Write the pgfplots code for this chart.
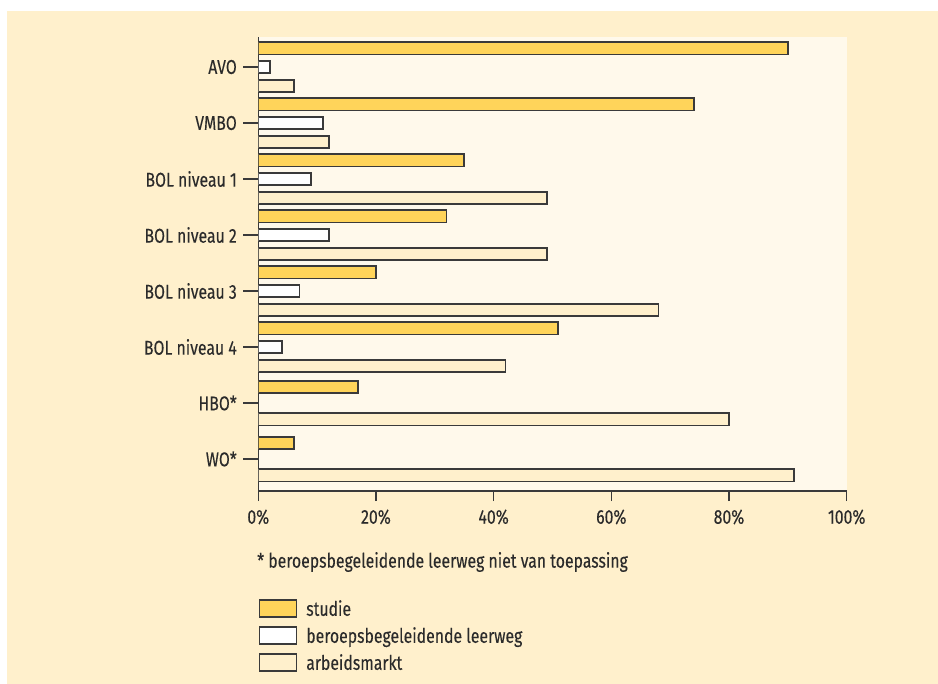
\documentclass[border=0pt]{standalone}
\usepackage{fontspec}
\setmainfont{Fira Sans}[FakeStretch=0.79, FakeBold=0.15]
\usepackage{pgfplots}
\pgfplotsset{compat=1.18}
\definecolor{panel}{HTML}{FFF0CC}
\definecolor{plotbg}{HTML}{FFF9EB}
\definecolor{gold}{HTML}{FFD45A}
\definecolor{edge}{HTML}{3A3A3A}
\definecolor{txt}{HTML}{2B2B2B}
\newcommand\chartfont{\fontsize{20bp}{24bp}\selectfont}
\begin{document}
\begin{tikzpicture}[font=\chartfont, text=txt]
\path[use as bounding box] (0,0) rectangle (938bp,684bp);
\fill[panel] (7bp,0) rectangle (938bp,673bp);
\begin{axis}[
  at={(258.3bp,193bp)}, anchor=south west,
  scale only axis, width=588.4bp, height=454bp,
  xmin=0, xmax=100, ymin=-0.571, ymax=7.536,
  axis lines*=left,
  axis line style={edge, line width=1.5bp},
  axis background/.style={fill=plotbg},
  xtick={0,20,40,60,80,100},
  xticklabels={0\%,20\%,40\%,60\%,80\%,100\%},
  ytick={0,...,7},
  yticklabels={WO*,HBO*,BOL niveau 4,BOL niveau 3,BOL niveau 2,BOL niveau 1,VMBO,AVO},
  tick align=outside,
  major tick length=15bp,
  tick style={edge, line width=1.5bp},
  xtick style={/pgfplots/major tick length=10bp},
  yticklabel style={xshift=-3bp},
  xbar, bar width=12.2bp,
  legend image code/.code={\draw[#1, line width=1.8bp] (0bp,-8.6bp) rectangle (37bp,8.6bp);},
  legend cell align=left,
  legend style={at={(0,-0.238)}, anchor=north west, draw=none, fill=none,
    inner sep=0pt, row sep=8bp, font=\chartfont,
    nodes={inner sep=0pt},
    /tikz/every odd column/.append style={column sep=9bp}},
]
% studie
\addplot[fill=gold, draw=edge, line width=1.8bp, bar shift=18.7bp]
  coordinates {(90,7) (74,6) (35,5) (32,4) (20,3) (51,2)};
\addlegendentry{studie}
\addplot[fill=gold, draw=edge, line width=1.8bp, bar shift=16.3bp, forget plot]
  coordinates {(17,1) (6,0)};
% beroepsbegeleidende leerweg
\addplot[fill=white, draw=edge, line width=1.8bp, bar shift=0bp]
  coordinates {(2,7) (11,6) (9,5) (12,4) (7,3) (4,2)};
\addlegendentry{beroepsbegeleidende leerweg}
% arbeidsmarkt
\addplot[fill=panel, draw=edge, line width=1.8bp, bar shift=-18.7bp]
  coordinates {(6,7) (12,6) (49,5) (49,4) (68,3) (42,2)};
\addlegendentry{arbeidsmarkt}
\addplot[fill=panel, draw=edge, line width=1.8bp, bar shift=-16.3bp, forget plot]
  coordinates {(80,1) (91,0)};
\end{axis}
\node[anchor=west, inner sep=0pt] at (257bp,122bp) {* beroepsbegeleidende leerweg niet van toepassing};
\end{tikzpicture}
\end{document}
